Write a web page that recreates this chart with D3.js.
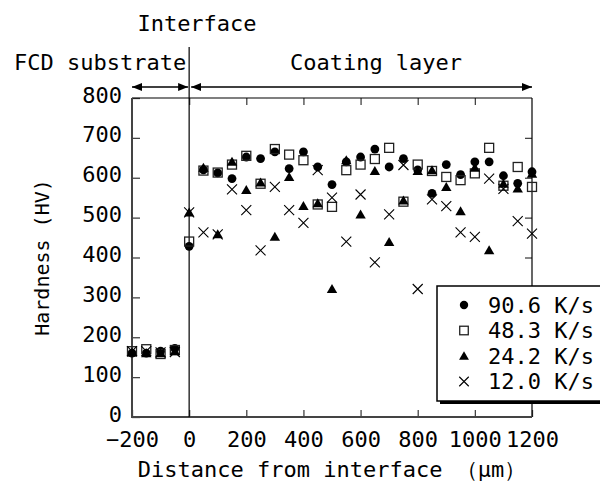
<!DOCTYPE html>
<html>
<head>
<meta charset="utf-8">
<script src="https://cdn.jsdelivr.net/npm/d3@7"></script>
<style>
  body { margin: 0; background: #fff; }
  text { font-family: "DejaVu Sans Mono", "Liberation Mono", monospace; fill: #000; }
</style>
</head>
<body>
<div id="graph"></div>
<script>
// distances (um)
const substrateX = [-200, -150, -100, -50];
const interfaceX = [0];
const coatingX = [50, 100, 150, 200, 250, 300, 350, 400, 450, 500, 550, 600,
    650, 700, 750, 800, 850, 900, 950, 1000, 1050, 1100, 1150, 1200];
const distances = substrateX.concat(interfaceX, coatingX);

// hardness (HV), one value per distance
const hv906 = [160, 160, 165, 172, 428,
    620, 612, 598, 652, 648, 665, 623, 665, 627, 583, 640, 652, 672, 627, 648, 620, 561, 633, 608, 640, 640, 605, 586, 615];
const hv483 = [165, 170, 158, 168, 440,
    618, 613, 633, 655, 585, 672, 658, 644, 533, 527, 619, 633, 647, 675, 540, 633, 617, 602, 594, 611, 675, 580, 627, 577];
const hv242 = [162, 160, 160, 165, 513,
    625, 458, 640, 569, 588, 452, 602, 529, 536, 321, 644, 508, 617, 439, 543, 617, 619, 577, 516, 625, 418, 585, 573, 610];
const hv120 = [165, 165, 162, 163, 513,
    463, 458, 571, 519, 418, 577, 519, 487, 619, 550, 440, 558, 388, 508, 632, 321, 546, 529, 463, 452, 598, 572, 491, 460];

const seriesNames = ['90.6 K/s', '48.3 K/s', '24.2 K/s', '12.0 K/s'];
const seriesValues = [hv906, hv483, hv242, hv120];
const seriesShapes = ['circle', 'square', 'triangle', 'cross'];

const xTicks = [-200, 0, 200, 400, 600, 800, 1000, 1200];
const yTicks = [0, 100, 200, 300, 400, 500, 600, 700, 800];

const W = 600, H = 486;
const margin = { top: 98, right: 68, bottom: 69, left: 132 };

const svg = d3.select('#graph').append('svg')
    .attr('width', W).attr('height', H);

const x = d3.scaleLinear().domain([-200, 1200]).range([margin.left, W - margin.right]);
const y = d3.scaleLinear().domain([0, 800]).range([H - margin.bottom, margin.top]);

const axisColor = '#444';

// axes (ticks point inward)
const gLeft = svg.append('g').attr('transform', `translate(${x(-200)},0)`)
    .call(d3.axisLeft(y).tickValues(yTicks).tickSize(-8).tickPadding(10).tickFormat(d3.format('d')));
const gBottom = svg.append('g').attr('transform', `translate(0,${y(0)})`)
    .call(d3.axisBottom(x).tickValues(xTicks).tickSize(-7).tickPadding(14).tickFormat(d3.format('d')));
const gTop = svg.append('g').attr('transform', `translate(0,${y(800)})`)
    .call(d3.axisTop(x).tickValues(xTicks.slice(1, -1)).tickSize(-7).tickFormat(''));
const gRight = svg.append('g').attr('transform', `translate(${x(1200)},0)`)
    .call(d3.axisRight(y).tickValues(yTicks.slice(1, -1)).tickSize(-7).tickFormat(''));

[gLeft, gBottom, gTop, gRight].forEach(g => {
    g.select('.domain').remove();
    g.selectAll('.tick line').attr('stroke', axisColor).attr('stroke-width', 1.3);
    g.selectAll('.tick text').attr('font-size', 22).attr('font-family', null);
});
gLeft.selectAll('.tick text').attr('dy', '0.32em').attr('y', -3);
gBottom.selectAll('.tick text').attr('dy', '0.71em');

// frame
svg.append('line').attr('x1', x(-200)).attr('x2', x(1200)).attr('y1', y(800)).attr('y2', y(800))
    .attr('stroke', '#000').attr('stroke-width', 1.2);
svg.append('line').attr('x1', x(1200)).attr('x2', x(1200)).attr('y1', y(800)).attr('y2', y(0))
    .attr('stroke', '#000').attr('stroke-width', 1.2);
svg.append('line').attr('x1', x(-200)).attr('x2', x(-200)).attr('y1', y(800)).attr('y2', y(0) + 1)
    .attr('stroke', axisColor).attr('stroke-width', 2);
svg.append('line').attr('x1', x(-200) - 1).attr('x2', x(1200)).attr('y1', y(0)).attr('y2', y(0))
    .attr('stroke', axisColor).attr('stroke-width', 2);

// interface line
svg.append('line').attr('x1', x(0)).attr('x2', x(0)).attr('y1', 47).attr('y2', y(0))
    .attr('stroke', '#000').attr('stroke-width', 1.2);

// region arrows
const defs = svg.append('defs');
defs.append('marker').attr('id', 'ah').attr('viewBox', '0 0 10 8')
    .attr('refX', 10).attr('refY', 4).attr('markerWidth', 10).attr('markerHeight', 8)
    .attr('markerUnits', 'userSpaceOnUse').attr('orient', 'auto-start-reverse')
    .append('path').attr('d', 'M0,0L10,4L0,8Z').attr('fill', '#000');

const arrowY = 87;
[[x(-200), x(0) - 1], [x(0) + 2, x(1200)]].forEach(([a, b]) => {
    svg.append('line').attr('x1', a).attr('x2', b).attr('y1', arrowY).attr('y2', arrowY)
        .attr('stroke', '#000').attr('stroke-width', 1.3)
        .attr('marker-start', 'url(#ah)').attr('marker-end', 'url(#ah)');
});

svg.append('text').attr('x', 197).attr('y', 31).attr('text-anchor', 'middle')
    .attr('font-size', 22).text('Interface');
svg.append('text').attr('x', 14).attr('y', 70)
    .attr('font-size', 22).text('FCD substrate');
svg.append('text').attr('x', 376).attr('y', 70).attr('text-anchor', 'middle')
    .attr('font-size', 22).text('Coating layer');

// axis titles
svg.append('text').attr('x', (x(-200) + x(1200)) / 2).attr('y', 477).attr('text-anchor', 'middle')
    .attr('font-size', 22).text('Distance from interface （μm）');
svg.append('text')
    .attr('transform', `translate(49,${(y(0) + y(800)) / 2}) rotate(-90)`)
    .attr('text-anchor', 'middle').attr('font-size', 20).text('Hardness (HV)');

// markers
const drawMarker = (g, shape, cx, cy, s) => {
    if (shape === 'circle') {
        g.append('circle').attr('cx', cx).attr('cy', cy).attr('r', 4.4 * s).attr('fill', '#000');
    } else if (shape === 'square') {
        const h = 4.5 * s;
        g.append('rect').attr('x', cx - h).attr('y', cy - h).attr('width', 2 * h).attr('height', 2 * h)
            .attr('fill', 'none').attr('stroke', '#222').attr('stroke-width', 1.3);
    } else if (shape === 'triangle') {
        const w = 5.2 * s, t = 5 * s, b = 4 * s;
        g.append('path').attr('d', `M${cx},${cy - t}L${cx + w},${cy + b}L${cx - w},${cy + b}Z`)
            .attr('fill', '#000');
    } else {
        const h = 5 * s;
        g.append('path').attr('d', `M${cx - h},${cy - h}L${cx + h},${cy + h}M${cx - h},${cy + h}L${cx + h},${cy - h}`)
            .attr('stroke', '#000').attr('stroke-width', 1.1).attr('fill', 'none');
    }
};

const gPts = svg.append('g');
seriesValues.forEach((vals, i) => {
    const g = gPts.append('g');
    vals.forEach((v, j) => drawMarker(g, seriesShapes[i], x(distances[j]), y(v), 1));
});

// legend
const lg = svg.append('g');
lg.append('rect').attr('x', 440).attr('y', 289).attr('width', 200).attr('height', 115).attr('fill', '#000');
lg.append('rect').attr('x', 437).attr('y', 286).attr('width', 200).attr('height', 115)
    .attr('fill', '#fff').attr('stroke', '#000').attr('stroke-width', 1.5);
const rowY = [305, 330.5, 356, 381.5];
seriesNames.forEach((name, i) => {
    drawMarker(lg, seriesShapes[i], 464, rowY[i], 0.95);
    lg.append('text').attr('x', 488).attr('y', rowY[i]).attr('dy', '0.36em')
        .attr('font-size', 22).text(name);
});
</script>
</body>
</html>
